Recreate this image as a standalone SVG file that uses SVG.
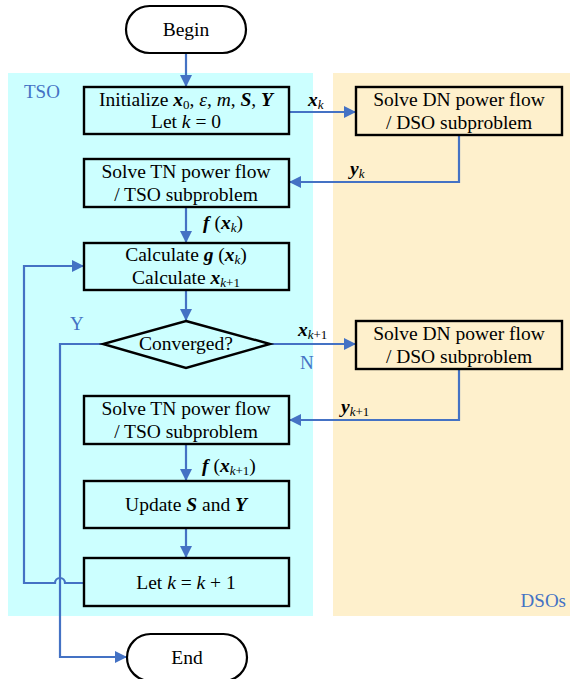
<svg xmlns="http://www.w3.org/2000/svg" width="571" height="679" viewBox="0 0 571 679">
<style>
text{font-family:'Liberation Serif','DejaVu Serif','Times New Roman',serif;font-size:19.5px;fill:#000}
.c{text-anchor:middle}
.lbl{fill:#4472C4;font-size:19px}
.box{fill:none;stroke:#000;stroke-width:2.4}
.dsobox{fill:#FEF0CC;stroke:#000;stroke-width:2.4}
.term{fill:#fff;stroke:#000;stroke-width:2.2}
.ln{fill:none;stroke:#4472C4;stroke-width:2.2}
.bi{font-weight:bold;font-style:italic}
.i{font-style:italic}
.s{font-size:13px}
</style>
<defs>
<marker id="ah" markerWidth="12" markerHeight="12" refX="11" refY="6" orient="auto" markerUnits="userSpaceOnUse">
<path d="M0,0 L12,6 L0,12 z" fill="#4472C4"/>
</marker>
</defs>
<rect x="8" y="73" width="305" height="543" fill="#CCFFFF"/>
<rect x="333" y="73" width="237" height="543" fill="#FEF0CC"/>
<text class="lbl" x="24" y="98">TSO</text>
<text class="lbl" x="566" y="607" text-anchor="end">DSOs</text>

<g id="connectors">
<path class="ln" d="M186,54 V86" marker-end="url(#ah)"/>
<path class="ln" d="M290,112 H355" marker-end="url(#ah)"/>
<path class="ln" d="M459,135 V182 H290" marker-end="url(#ah)"/>
<path class="ln" d="M186,207 V242" marker-end="url(#ah)"/>
<path class="ln" d="M186,290 V320" marker-end="url(#ah)"/>
<path class="ln" d="M270,344 H355" marker-end="url(#ah)"/>
<path class="ln" d="M459,369 V420 H290" marker-end="url(#ah)"/>
<path class="ln" d="M186,444 V480" marker-end="url(#ah)"/>
<path class="ln" d="M186,528 V557" marker-end="url(#ah)"/>
<path class="ln" d="M103,344 H60 V657 H126" marker-end="url(#ah)"/>
<path class="ln" d="M84,583 H65 A5,5 0 0 0 55,583 H24 V266 H83" marker-end="url(#ah)"/>
<text x="308" y="106" class="bi">x<tspan class="s" font-weight="normal" dy="3">k</tspan></text>
<text x="350" y="175" class="bi">y<tspan class="s" font-weight="normal" dy="3">k</tspan></text>
<text x="203" y="229"><tspan class="bi">f</tspan> (<tspan class="bi">x</tspan><tspan class="s i" dy="3">k</tspan><tspan dy="-3">)</tspan></text>
<text x="298" y="336" class="bi">x<tspan class="s" font-weight="normal" font-style="italic" dy="3">k</tspan><tspan class="s" font-weight="normal" font-style="normal">+1</tspan></text>
<text class="lbl" x="300" y="369">N</text>
<text class="lbl" x="70" y="330">Y</text>
<text x="341" y="413" class="bi">y<tspan class="s" font-weight="normal" font-style="italic" dy="3">k</tspan><tspan class="s" font-weight="normal" font-style="normal">+1</tspan></text>
<text x="202" y="472"><tspan class="bi">f</tspan> (<tspan class="bi">x</tspan><tspan class="s i" dy="3">k</tspan><tspan class="s">+1</tspan><tspan dy="-3">)</tspan></text>
</g>

<g id="begin">
<rect class="term" x="126" y="6" width="120" height="47" rx="23.5"/>
<text class="c" x="186" y="36">Begin</text>
</g>
<g id="init">
<rect class="box" x="84" y="87" width="205" height="47"/>
<text class="c" x="186" y="106">Initialize <tspan class="bi">x</tspan><tspan class="s" dy="3">0</tspan><tspan dy="-3">, </tspan><tspan class="i">ε</tspan>, <tspan class="i">m</tspan>, <tspan class="bi">S</tspan>, <tspan class="bi">Y</tspan></text>
<text class="c" x="186" y="128">Let <tspan class="i">k</tspan> = 0</text>
</g>
<g id="tn1">
<rect class="box" x="84" y="159" width="205" height="48"/>
<text class="c" x="186" y="178">Solve TN power flow</text>
<text class="c" x="186" y="201">/ TSO subproblem</text>
</g>
<g id="calc">
<rect class="box" x="84" y="243" width="205" height="47"/>
<text class="c" x="186" y="261">Calculate <tspan class="bi">g</tspan> (<tspan class="bi">x</tspan><tspan class="s i" dy="3">k</tspan><tspan dy="-3">)</tspan></text>
<text class="c" x="186" y="284">Calculate <tspan class="bi">x</tspan><tspan class="s i" dy="3">k</tspan><tspan class="s">+1</tspan></text>
</g>
<g id="conv">
<path class="box" d="M186,321 L270,344 L186,368 L103,344 z"/>
<text class="c" x="186" y="350">Converged?</text>
</g>
<g id="tn2">
<rect class="box" x="84" y="396" width="205" height="48"/>
<text class="c" x="186" y="415">Solve TN power flow</text>
<text class="c" x="186" y="438">/ TSO subproblem</text>
</g>
<g id="update">
<rect class="box" x="84" y="481" width="205" height="47"/>
<text class="c" x="186" y="511">Update <tspan class="bi">S</tspan> and <tspan class="bi">Y</tspan></text>
</g>
<g id="letk">
<rect class="box" x="84" y="558" width="205" height="48"/>
<text class="c" x="186" y="589">Let <tspan class="i">k</tspan> = <tspan class="i">k</tspan> + 1</text>
</g>
<g id="dn1">
<rect class="dsobox" x="356" y="87" width="206" height="48"/>
<text class="c" x="459" y="106">Solve DN power flow</text>
<text class="c" x="459" y="129">/ DSO subproblem</text>
</g>
<g id="dn2">
<rect class="dsobox" x="356" y="321" width="206" height="48"/>
<text class="c" x="459" y="340">Solve DN power flow</text>
<text class="c" x="459" y="363">/ DSO subproblem</text>
</g>
<g id="end">
<rect class="term" x="127" y="634" width="120" height="47" rx="23.5"/>
<text class="c" x="187" y="664">End</text>
</g>
</svg>
